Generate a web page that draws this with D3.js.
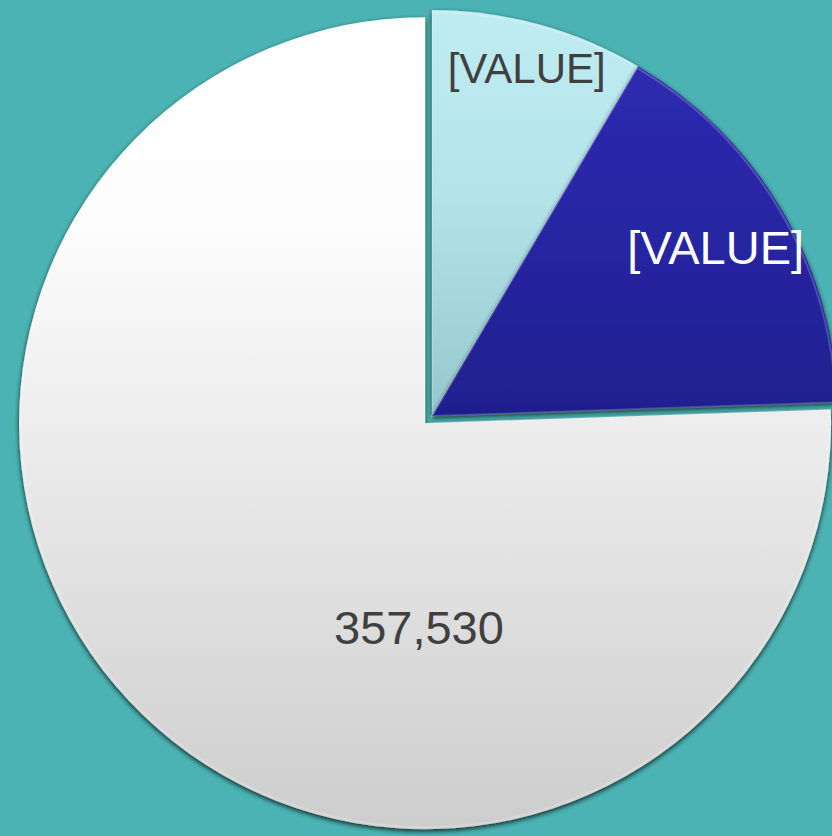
<!DOCTYPE html>
<html>
<head>
<meta charset="utf-8">
<script src="https://cdn.jsdelivr.net/npm/d3@7"></script>
<style>
  html, body { margin: 0; padding: 0; background: #4bb3b3; }
  svg { display: block; }
</style>
</head>
<body>
<svg id="chart" width="832" height="836"></svg>
<script>
// slices, clockwise from 12 o'clock
const categories = ["A", "B", "C"];
const values = [40100, 75700, 357530];
const labels = ["[VALUE]", "[VALUE]", "357,530"];

const width = 832, height = 836;
const cx = 432, cy = 416, radius = 406;

const svg = d3.select("#chart");
const defs = svg.append("defs");

// vertical gradients per slice, over each slice's own box
const grads = [
  [["0%", "#bfecf1"], ["45%", "#b4e4ea"], ["100%", "#95c8cc"]],
  [["0%", "#2e2ab0"], ["50%", "#2725a2"], ["100%", "#1f1f8e"]],
  [["0%", "#ffffff"], ["25%", "#fdfdfd"], ["100%", "#cdcdcd"]]
];
grads.forEach((g, i) => {
  const lg = defs.append("linearGradient")
    .attr("id", "g" + i)
    .attr("x1", 0).attr("y1", 0)
    .attr("x2", 0).attr("y2", 1);
  g.forEach(s => lg.append("stop").attr("offset", s[0]).attr("stop-color", s[1]));
});

// soft shadow round the slices
const f = defs.append("filter").attr("id", "shadow")
  .attr("x", "-10%").attr("y", "-10%").attr("width", "120%").attr("height", "120%");
f.append("feGaussianBlur").attr("in", "SourceAlpha").attr("stdDeviation", 2.5).attr("result", "b");
f.append("feOffset").attr("in", "b").attr("dx", 0).attr("dy", 1.5).attr("result", "o");
f.append("feComponentTransfer").attr("in", "o").attr("result", "s")
  .append("feFuncA").attr("type", "linear").attr("slope", 0.8);
const m = f.append("feMerge");
m.append("feMergeNode").attr("in", "s");
m.append("feMergeNode").attr("in", "SourceGraphic");

const pie = d3.pie().sort(null).value(d => d)(values);
const arc = d3.arc().innerRadius(0).outerRadius(radius);

// the big slice is pulled out a little
const explode = [0, 0, 10];
// label distance from the slice centre
const labelR = [360, 330, 204];
const labelColor = ["#404040", "#ffffff", "#404040"];
const labelSize = [42, 47, 47];

const g = svg.append("g").attr("transform", `translate(${cx},${cy})`);

const slices = g.selectAll("g.slice")
  .data(pie)
  .join("g")
  .attr("class", "slice")
  .attr("transform", (d, i) => {
    const a = (d.startAngle + d.endAngle) / 2;
    return `translate(${Math.sin(a) * explode[i]},${-Math.cos(a) * explode[i]})`;
  });

slices.append("path")
  .attr("d", arc)
  .attr("fill", (d, i) => `url(#g${i})`)
  .attr("filter", "url(#shadow)");

// faint bevel on the edges
slices.append("path")
  .attr("d", d3.arc().innerRadius(0).outerRadius(radius - 2))
  .attr("fill", "none")
  .attr("stroke", "rgba(255,255,255,0.2)")
  .attr("stroke-width", 2);

// the big slice puts its label straight below, a touch left
const labelAngle = (d, i) => i === 2 ? Math.PI + 0.03 : (d.startAngle + d.endAngle) / 2;

slices.append("text")
  .attr("x", (d, i) => Math.sin(labelAngle(d, i)) * labelR[i])
  .attr("y", (d, i) => -Math.cos(labelAngle(d, i)) * labelR[i])
  .attr("text-anchor", "middle")
  .attr("dominant-baseline", "central")
  .attr("font-family", "'Liberation Sans', Arial, sans-serif")
  .attr("font-size", (d, i) => labelSize[i])
  .attr("fill", (d, i) => labelColor[i])
  .text((d, i) => labels[i]);
</script>
</body>
</html>
